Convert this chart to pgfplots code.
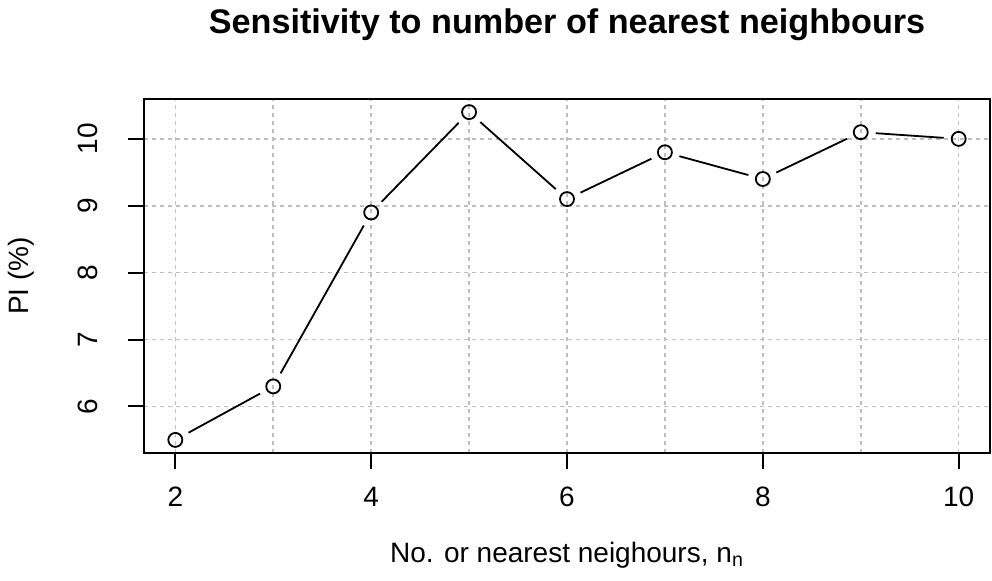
\documentclass[border=0pt]{standalone}
\usepackage{fontspec}
\setmainfont{Liberation Sans}
\usepackage{pgfplots}
\usepackage{pgfplotstable}
\pgfplotsset{compat=1.18}
\pgfplotstableread{
x y
2 5.5
3 6.3
4 8.9
5 10.4
6 9.1
7 9.8
8 9.4
9 10.1
10 10.0
}\datatable
\begin{document}
\begin{tikzpicture}
\begin{axis}[
  name=ax,
  scale only axis,
  width=423pt, height=177pt,
  xmin=1.68, xmax=10.32, ymin=5.304, ymax=10.596,
  xtick={2,4,6,8,10}, ytick={6,7,8,9,10},
  minor xtick={3,5,7,9},
  grid=both,
  major grid style={gray!50, line width=0.8pt, dash pattern=on 2pt off 2pt},
  minor grid style={gray!50, line width=0.8pt, dash pattern=on 2pt off 2pt},
  minor tick length=0pt,
  tick align=outside, major tick length=8pt,
  tick pos=left,
  axis line style={line width=1pt},
  every tick/.style={black, line width=1pt},
  /pgf/number format/assume math mode=true,
  tick label style={font=\fontsize{14}{16}\selectfont, inner sep=0pt},
  xticklabel style={anchor=north, yshift=-9pt},
  yticklabel style={xshift=-15pt, anchor=base, rotate=90},
  every axis title shift=0pt,
  title={Sensitivity to number of nearest neighbours},
  title style={at={(axis description cs:0.5,1.1864)}, anchor=base, inner sep=0pt, font=\fontsize{17.1}{20}\selectfont\bfseries},
  xlabel={No. or nearest neighours, n\textsubscript{n}},
  xlabel style={at={(axis description cs:0.5,-0.3079)}, anchor=base, inner sep=0pt, font=\fontsize{14}{16}\selectfont},
  ylabel={PI (\%)},
  ylabel style={at={(axis description cs:-0.1371,0.5)}, anchor=base, rotate=0, inner sep=0pt, font=\fontsize{14}{16}\selectfont},
]
\pgfplotsinvokeforeach{0,...,7}{
  \addplot[black, line width=0.9pt, shorten <=7.5pt, shorten >=7.5pt, mark=none,
    x filter/.code={\ifnum\coordindex<#1 \def\pgfmathresult{}\fi\ifnum\coordindex>\numexpr#1+1\relax\def\pgfmathresult{}\fi}]
    table[x=x, y=y] {\datatable};
}
\addplot[only marks, mark=o, mark size=3.5pt, mark options={line width=0.9pt, black}] table[x=x, y=y] {\datatable};
\end{axis}
\path[use as bounding box] ([shift={(-72pt,-63.5pt)}]ax.south west) rectangle ([shift={(1pt,49.5pt)}]ax.north east);
\end{tikzpicture}
\end{document}
